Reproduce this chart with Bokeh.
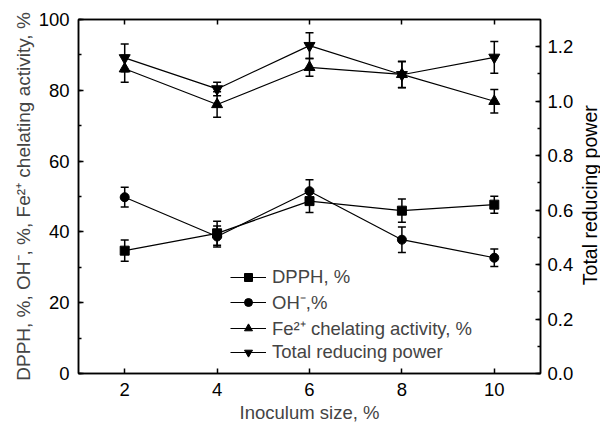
import math
from bokeh.plotting import figure
from bokeh.layouts import row
from bokeh.models import (LinearAxis, Range1d, SingleIntervalTicker, Whisker,
                          ColumnDataSource, Legend, LegendItem, TeeHead,
                          PrintfTickFormatter)
from bokeh.core.properties import value
from bokeh.embed import file_html
from bokeh.resources import INLINE

inoculum = [2, 4, 6, 8, 10]
dpph = [34.7, 39.6, 48.7, 46.0, 47.7]
dpph_err = [3.0, 3.4, 3.2, 3.3, 2.4]
oh = [49.8, 38.7, 51.5, 37.8, 32.7]
oh_err = [2.8, 3.0, 3.2, 3.6, 2.5]
fe = [86.1, 76.0, 86.5, 84.5, 76.9]
fe_err = [3.8, 3.6, 2.5, 3.7, 3.3]
trp = [1.159, 1.045, 1.204, 1.097, 1.161]
trp_err = [0.051, 0.025, 0.047, 0.048, 0.058]

labels = ["DPPH, %", "OH\u207b,%", "Fe\u00b2\u207a chelating activity, %", "Total reducing power"]
right_axis_title = "Total reducing power"

FONT = "Liberation Sans"

p = figure(width=578, height=425, output_backend="svg", toolbar_location=None,
           x_range=Range1d(1, 11), y_range=Range1d(0, 100),
           min_border_left=78, min_border_right=38, min_border_top=19,
           min_border_bottom=52)
p.extra_y_ranges = {"right": Range1d(0, 1.3)}
p.grid.visible = False
p.outline_line_color = "black"
p.outline_line_width = 1.5
p.background_fill_color = "white"
p.border_fill_color = "white"


def style_axis(ax, interval, minor, labels_on=True, standoff=8):
    ax.ticker = SingleIntervalTicker(interval=interval, num_minor_ticks=minor)
    ax.major_tick_in = 5
    ax.major_tick_out = 0
    ax.minor_tick_in = 3
    ax.minor_tick_out = 0
    ax.axis_line_width = 1.5
    ax.major_tick_line_width = 1.5
    ax.minor_tick_line_width = 1.5
    ax.major_label_text_font = FONT
    ax.major_label_text_font_size = "18.5px"
    ax.major_label_text_color = "black" if labels_on else None
    ax.axis_label_text_font = FONT
    ax.axis_label_text_font_size = "18.5px"
    ax.axis_label_text_font_style = "normal"
    ax.major_label_standoff = standoff
    ax.axis_label_standoff = 2


xa = p.xaxis[0]
style_axis(xa, 2, 0, standoff=9)
xa.axis_label_standoff = 3
xa.axis_label = "Inoculum size, %"
ya = p.yaxis[0]
style_axis(ya, 20, 2, standoff=9)
ya.axis_label_text_font_size = "19px"
ya.axis_label = "DPPH, %, OH\u207b, %, Fe\u00b2\u207a chelating activity, %"

ra = LinearAxis(y_range_name="right")
style_axis(ra, 0.2, 2, standoff=7)
ra.formatter = PrintfTickFormatter(format="%.1f")
p.add_layout(ra, "right")

ta = LinearAxis()
style_axis(ta, 2, 0, labels_on=False)
ta.major_label_text_font_size = "0px"
p.add_layout(ta, "above")

series = [
    (dpph, dpph_err, "square", 9, "default"),
    (oh, oh_err, "circle", 9, "default"),
    (fe, fe_err, "triangle", 11, "default"),
    (trp, trp_err, "inverted_triangle", 11, "right"),
]

items = []
for (vals, errs, marker, size, rng), lab in zip(series, labels):
    src = ColumnDataSource(dict(x=inoculum, y=vals,
                                lo=[v - e for v, e in zip(vals, errs)],
                                hi=[v + e for v, e in zip(vals, errs)]))
    w = Whisker(base="x", lower="lo", upper="hi", source=src,
                y_range_name=rng, line_color="black", line_width=1.5,
                upper_head=TeeHead(size=8, line_width=1.5, line_color="black"),
                lower_head=TeeHead(size=8, line_width=1.5, line_color="black"))
    p.add_layout(w)
    ln = p.line("x", "y", source=src, y_range_name=rng, line_color="black", line_width=1.2)
    sc = p.scatter("x", "y", source=src, y_range_name=rng, marker=marker, size=size,
                   fill_color="black", line_color="black")
    items.append(LegendItem(label=lab, renderers=[ln, sc]))

legend = Legend(items=items, location=(152, 10), padding=0, margin=0,
                border_line_color=None, background_fill_alpha=0,
                glyph_width=36, glyph_height=20, label_height=20, spacing=1,
                label_standoff=6, label_text_font=FONT, label_text_font_size="18.5px")
p.add_layout(legend, "center")

# narrow side panel holding the right axis title (reads bottom-to-top)
p2 = figure(width=22, height=425, output_backend="svg", toolbar_location=None,
            x_range=Range1d(0, 22), y_range=Range1d(0, 425),
            min_border=0, min_border_left=0, min_border_right=0,
            min_border_top=0, min_border_bottom=0)
p2.axis.visible = False
p2.grid.visible = False
p2.outline_line_color = None
p2.background_fill_color = "white"
p2.border_fill_color = "white"
p2.text(x=[11], y=[214], text=[right_axis_title], angle=math.pi / 2,
        text_align="center", text_baseline="middle",
        text_font=value(FONT), text_font_size="19.5px", text_color="black")

layout = row(p, p2, spacing=0)
open("out.html", "w").write(file_html(layout, INLINE))
